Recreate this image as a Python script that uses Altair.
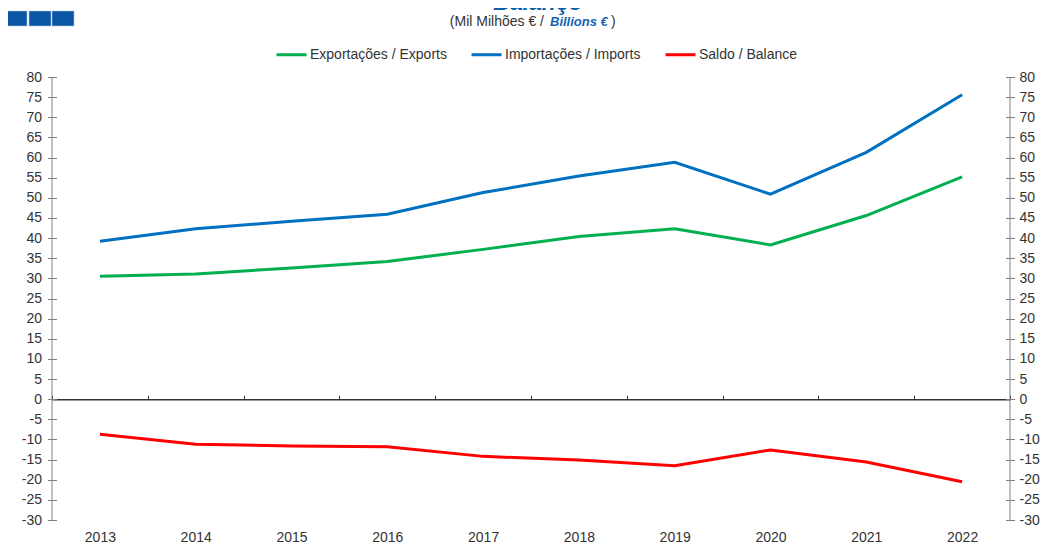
import altair as alt
import pandas as pd

# ---- data ----
years = ["2013", "2014", "2015", "2016", "2017", "2018", "2019", "2020", "2021", "2022"]
exports = [30.5, 31.1, 32.6, 34.2, 37.2, 40.4, 42.3, 38.3, 45.6, 55.2]
imports = [39.2, 42.3, 44.2, 45.9, 51.3, 55.4, 58.8, 50.9, 61.3, 75.6]
balance = [-8.7, -11.2, -11.6, -11.8, -14.2, -15.1, -16.5, -12.6, -15.6, -20.5]
series_names = ["Exportações / Exports", "Importações / Imports", "Saldo / Balance"]
series_colors = ["#00B050", "#0070C0", "#FF0000"]
y_ticks = list(range(-30, 85, 5))
title_text = "Balanço"
subtitle_a = "(Mil Milhões € /"
subtitle_b = "Billions €"
subtitle_c = ")"

rows = []
for name, vals in zip(series_names, [exports, imports, balance]):
    for yr, v in zip(years, vals):
        rows.append({"year": yr, "value": v, "series": name})
df = pd.DataFrame(rows)

# ---- layout ----
W, H = 958, 443
PAD_L, PAD_T = 44, 69
Y_MIN, Y_MAX = -30, 80
zero_offset = H * Y_MAX / (Y_MAX - Y_MIN)
FONT = "Liberation Sans"
TXT = "#333333"
AXC = "#808080"
LABEL_EXPR = "toString(datum.value)"

y_scale = alt.Scale(domain=[Y_MIN, Y_MAX], nice=False, zero=False)

lines = alt.Chart(df).mark_line(strokeWidth=3).encode(
    x=alt.X(
        "year:O",
        sort=years,
        scale=alt.Scale(type="point", padding=0.5),
        axis=alt.Axis(
            orient="bottom", title=None, labelAngle=0, ticks=False, tickSize=0,
            domain=False, grid=False, labelFontSize=14, labelPadding=10,
            labelColor=TXT, labelFont=FONT,
        ),
    ),
    y=alt.Y(
        "value:Q",
        scale=y_scale,
        axis=alt.Axis(
            orient="left", title=None, values=y_ticks, offset=-4.5, tickSize=9,
            domain=False, grid=False, labelPadding=6, labelFontSize=14,
            labelColor=TXT, labelFont=FONT, tickColor=AXC, labelExpr=LABEL_EXPR,
        ),
    ),
    color=alt.Color(
        "series:N",
        sort=series_names,
        scale=alt.Scale(domain=series_names, range=series_colors),
        legend=alt.Legend(
            orient="none", legendX=223, legendY=-39, direction="horizontal",
            title=None, symbolType="stroke", symbolSize=900, symbolStrokeWidth=3,
            labelFontSize=14, labelFont=FONT, labelColor=TXT, labelOffset=2,
            columnPadding=18, padding=0,
        ),
    ),
)

ghost = alt.Chart(df).mark_line(strokeOpacity=0).encode(
    x=alt.X(
        "year:O",
        sort=years,
        scale=alt.Scale(type="band", paddingInner=0, paddingOuter=0),
        axis=alt.Axis(
            orient="top", title=None, labels=False, ticks=True, tickSize=4,
            tickBand="extent", domain=True, domainColor="#333333",
            tickColor="#333333", domainWidth=1.5, grid=False, offset=-zero_offset,
        ),
    ),
    y=alt.Y(
        "value:Q",
        scale=y_scale,
        axis=alt.Axis(
            orient="right", title=None, values=y_ticks, offset=-4.5, tickSize=9,
            domain=False, grid=False, labelPadding=4.5, labelFontSize=14,
            labelColor=TXT, labelFont=FONT, tickColor=AXC, labelExpr=LABEL_EXPR,
        ),
    ),
    detail="series:N",
)

one = pd.DataFrame({"k": [0]})
left_line = alt.Chart(one).mark_rule(color=AXC, strokeWidth=1).encode(
    x=alt.value(0), y=alt.value(0), y2=alt.value(H)
)
right_line = alt.Chart(one).mark_rule(color=AXC, strokeWidth=1).encode(
    x=alt.value(W), y=alt.value(0), y2=alt.value(H)
)

title = alt.Chart(one).mark_text(
    text=title_text, font=FONT, fontSize=23, fontWeight="bold", fontStyle="italic",
    color="#0B5EA8", align="center", baseline="alphabetic",
).encode(x=alt.value(486), y=alt.value(-67))

sub_a = alt.Chart(one).mark_text(
    text=subtitle_a, font=FONT, fontSize=14, color=TXT, align="right", baseline="middle",
).encode(x=alt.value(492), y=alt.value(-55))
sub_b = alt.Chart(one).mark_text(
    text=subtitle_b, font=FONT, fontSize=13, fontWeight="bold", fontStyle="italic",
    color="#1565B5", align="left", baseline="middle",
).encode(x=alt.value(498), y=alt.value(-55))
sub_c = alt.Chart(one).mark_text(
    text=subtitle_c, font=FONT, fontSize=14, color=TXT, align="left", baseline="middle",
).encode(x=alt.value(559), y=alt.value(-55))

logo_x = [-46, -23, 0]
logo_w = [21, 22, 22]
logos = [
    alt.Chart(one).mark_rect(color="#0B56A4", stroke="#A9C1DD", strokeWidth=0.6).encode(
        x=alt.value(lx), x2=alt.value(lx + lw), y=alt.value(-66), y2=alt.value(-51)
    )
    for lx, lw in zip(logo_x, logo_w)
]

chart = alt.layer(
    lines, ghost, left_line, right_line, title, sub_a, sub_b, sub_c, *logos
).resolve_scale(
    x="independent", y="independent"
).properties(
    width=W, height=H,
    autosize=alt.AutoSizeParams(type="none"),
    padding={"left": PAD_L, "top": PAD_T, "right": 1032 - PAD_L - W, "bottom": 25},
    background="white",
).configure_view(stroke=None)

chart.save("out.html", embed_options={"renderer": "svg", "actions": False})
